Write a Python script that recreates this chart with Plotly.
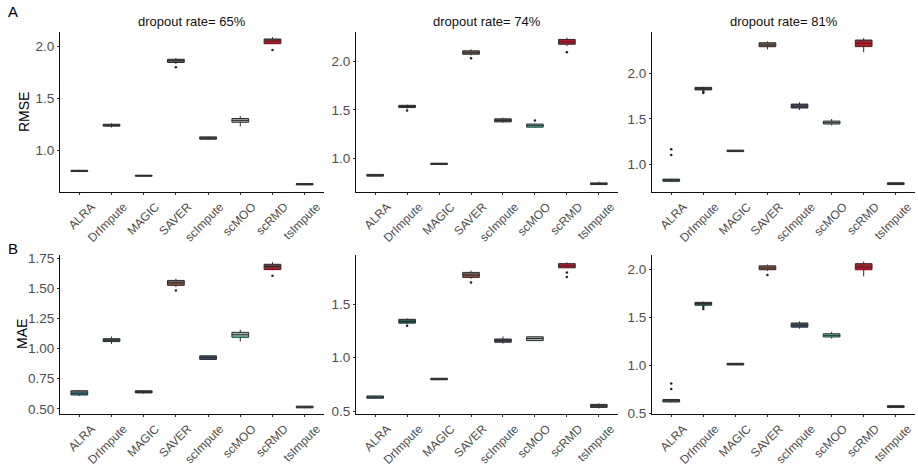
import plotly.graph_objects as go

W, H = 918, 466

methods = ["ALRA", "DrImpute", "MAGIC", "SAVER", "scImpute", "scMOO", "scRMD", "tsImpute"]
colors = ["#3C7F8C", "#2F5D52", "#3E4A48", "#8A5548", "#44506E", "#6ECDB5", "#B81A2A", "#505050"]

# box stats per method: (lower whisker, q1, median, q3, upper whisker)
rmse_65 = [(0.795, 0.800, 0.806, 0.812, 0.816), (1.222, 1.235, 1.245, 1.253, 1.262),
           (0.752, 0.755, 0.760, 0.765, 0.768), (1.830, 1.845, 1.862, 1.876, 1.888),
           (1.105, 1.110, 1.120, 1.132, 1.136), (1.232, 1.272, 1.290, 1.308, 1.332),
           (2.022, 2.025, 2.050, 2.070, 2.088), (0.670, 0.672, 0.678, 0.685, 0.688)]
rmse_74 = [(0.812, 0.815, 0.824, 0.833, 0.836), (1.515, 1.525, 1.535, 1.548, 1.555),
           (0.933, 0.936, 0.942, 0.949, 0.952), (2.065, 2.077, 2.092, 2.112, 2.128),
           (1.368, 1.377, 1.390, 1.408, 1.420), (1.318, 1.322, 1.338, 1.354, 1.358),
           (2.160, 2.180, 2.205, 2.230, 2.248), (0.725, 0.728, 0.737, 0.745, 0.758)]
rmse_81 = [(0.815, 0.818, 0.830, 0.842, 0.846), (1.812, 1.818, 1.830, 1.846, 1.852),
           (1.140, 1.143, 1.150, 1.159, 1.162), (2.262, 2.291, 2.310, 2.334, 2.350),
           (1.598, 1.620, 1.640, 1.663, 1.683), (1.430, 1.445, 1.460, 1.477, 1.500),
           (2.230, 2.292, 2.328, 2.364, 2.386), (0.780, 0.782, 0.792, 0.802, 0.804)]
mae_65 = [(0.607, 0.615, 0.630, 0.650, 0.655), (1.039, 1.058, 1.070, 1.082, 1.099),
          (0.625, 0.632, 0.640, 0.650, 0.655), (1.510, 1.525, 1.545, 1.566, 1.580),
          (0.908, 0.910, 0.925, 0.940, 0.942), (1.060, 1.094, 1.115, 1.135, 1.156),
          (1.650, 1.656, 1.680, 1.700, 1.717), (0.506, 0.508, 0.515, 0.522, 0.524)]
mae_74 = [(0.618, 0.620, 0.630, 0.641, 0.643), (1.315, 1.324, 1.340, 1.360, 1.368),
          (0.792, 0.793, 0.800, 0.807, 0.809), (1.740, 1.753, 1.775, 1.800, 1.815),
          (1.132, 1.145, 1.160, 1.175, 1.198), (1.158, 1.160, 1.180, 1.196, 1.198),
          (1.840, 1.843, 1.860, 1.882, 1.895), (0.525, 0.534, 0.548, 0.562, 0.572)]
mae_81 = [(0.618, 0.622, 0.635, 0.648, 0.652), (1.622, 1.628, 1.645, 1.658, 1.665),
          (1.005, 1.007, 1.015, 1.024, 1.026), (1.985, 1.997, 2.015, 2.037, 2.051),
          (1.383, 1.400, 1.420, 1.443, 1.460), (1.281, 1.298, 1.315, 1.331, 1.350),
          (1.928, 1.997, 2.025, 2.060, 2.082), (0.562, 0.564, 0.575, 0.583, 0.586)]

# outliers: (method, value)
rmse_65_out = [("SAVER", 1.800), ("scRMD", 1.965)]
rmse_74_out = [("DrImpute", 1.495), ("SAVER", 2.035), ("scMOO", 1.390), ("scRMD", 2.097)]
rmse_81_out = [("ALRA", 1.168), ("ALRA", 1.105), ("DrImpute", 1.800), ("DrImpute", 1.785)]
mae_65_out = [("SAVER", 1.482), ("scRMD", 1.605)]
mae_74_out = [("DrImpute", 1.300), ("SAVER", 1.706), ("scRMD", 1.800), ("scRMD", 1.757)]
mae_81_out = [("ALRA", 0.813), ("ALRA", 0.758), ("DrImpute", 1.611), ("DrImpute", 1.588), ("SAVER", 1.943)]

titles = ["dropout rate= 65%", "dropout rate= 74%", "dropout rate= 81%"]
y_ranges = [[0.604, 2.137], [0.651, 2.307], [0.701, 2.452],
            [0.457, 1.777], [0.472, 1.963], [0.497, 2.150]]
y_ticks = [[1.0, 1.5, 2.0], [1.0, 1.5, 2.0], [1.0, 1.5, 2.0],
           [0.5, 0.75, 1.0, 1.25, 1.5, 1.75], [0.5, 1.0, 1.5], [0.5, 1.0, 1.5, 2.0]]
y_ticktext = [["1.0", "1.5", "2.0"], ["1.0", "1.5", "2.0"], ["1.0", "1.5", "2.0"],
              ["0.50", "0.75", "1.00", "1.25", "1.50", "1.75"], ["0.5", "1.0", "1.5"],
              ["0.5", "1.0", "1.5", "2.0"]]

panels = [rmse_65, rmse_74, rmse_81, mae_65, mae_74, mae_81]
outs = [rmse_65_out, rmse_74_out, rmse_81_out, mae_65_out, mae_74_out, mae_81_out]

x_dom_px = [(60, 324), (356, 618), (652, 915)]
y_dom_px = [(32, 192), (255, 414)]

fig = go.Figure()
FONT = "Liberation Sans, Arial, sans-serif"

for p in range(6):
    row, col = divmod(p, 3)
    ax = "" if p == 0 else str(p + 1)
    xa, ya = "x" + ax, "y" + ax
    for i, m in enumerate(methods):
        lw, q1, med, q3, uw = panels[p][i]
        fig.add_trace(go.Box(
            x=[m], q1=[q1], median=[med], q3=[q3], lowerfence=[lw], upperfence=[uw],
            fillcolor=colors[i], line=dict(color="#2b2b2b", width=1),
            whiskerwidth=0, width=0.52, boxpoints=False, showlegend=False,
            xaxis=xa, yaxis=ya, hoverinfo="y"))
    if outs[p]:
        fig.add_trace(go.Scatter(
            x=[o[0] for o in outs[p]], y=[o[1] for o in outs[p]], mode="markers",
            marker=dict(color="#222222", size=2.5), showlegend=False,
            xaxis=xa, yaxis=ya))
    x0, x1 = x_dom_px[col]
    y0, y1 = y_dom_px[row]
    axis_common = dict(showgrid=False, zeroline=False, showline=True, linecolor="#111111",
                       linewidth=1.2, ticks="outside", ticklen=2, tickcolor="#333333",
                       automargin=False)
    fig.layout["xaxis" + ax] = dict(
        domain=[x0 / W, x1 / W], anchor=ya, type="category",
        categoryorder="array", categoryarray=methods, range=[-0.6, 7.6],
        tickangle=-45, ticklabelshift=12,
        tickfont=dict(family=FONT, size=12, color="#4d4d4d"), **axis_common)
    fig.layout["yaxis" + ax] = dict(
        domain=[1 - y1 / H, 1 - y0 / H], anchor=xa, range=y_ranges[p],
        tickvals=y_ticks[p], ticktext=y_ticktext[p],
        tickfont=dict(family=FONT, size=13.5, color="#4d4d4d"), **axis_common)

annotations = []
for c in range(3):
    x0, x1 = x_dom_px[c]
    annotations.append(dict(text=titles[c], x=(x0 + x1) / 2 / W, y=1 - 22 / H,
                            xref="paper", yref="paper", showarrow=False,
                            xanchor="center", yanchor="middle",
                            font=dict(family=FONT, size=13, color="#111111")))
annotations.append(dict(text="A", x=6 / W, y=1 - 12 / H, xref="paper", yref="paper",
                        showarrow=False, xanchor="left", yanchor="middle",
                        font=dict(family=FONT, size=15, color="#000000")))
annotations.append(dict(text="B", x=6 / W, y=1 - 248 / H, xref="paper", yref="paper",
                        showarrow=False, xanchor="left", yanchor="middle",
                        font=dict(family=FONT, size=15, color="#000000")))
annotations.append(dict(text="RMSE", x=24 / W, y=1 - 112 / H, xref="paper", yref="paper",
                        showarrow=False, textangle=-90, xanchor="center", yanchor="middle",
                        font=dict(family=FONT, size=14, color="#000000")))
annotations.append(dict(text="MAE", x=22 / W, y=1 - 334 / H, xref="paper", yref="paper",
                        showarrow=False, textangle=-90, xanchor="center", yanchor="middle",
                        font=dict(family=FONT, size=14, color="#000000")))

fig.update_layout(width=W, height=H, margin=dict(l=0, r=0, t=0, b=0),
                  paper_bgcolor="white", plot_bgcolor="white",
                  annotations=annotations, showlegend=False)

fig.write_html("out.html", config={"displayModeBar": False},
               post_script="document.body.style.margin='0';document.body.style.padding='0';")
